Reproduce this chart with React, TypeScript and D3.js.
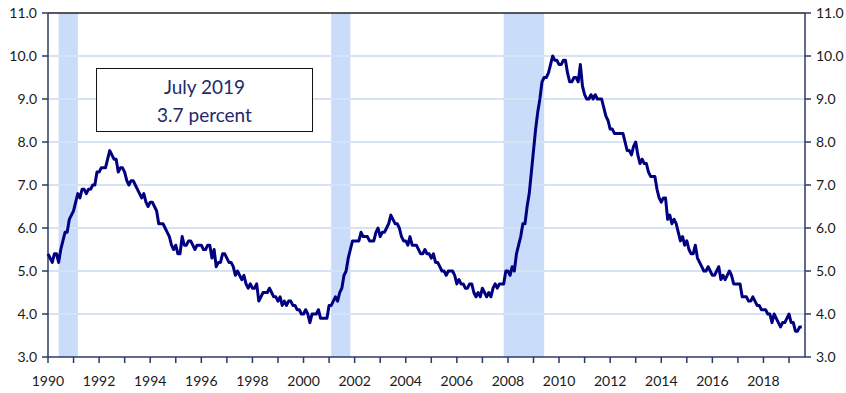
import React from "react";
import * as d3 from "d3";

const startYear = 1990;
const rates: number[] = [
  // 1990
  5.4, 5.3, 5.2, 5.4, 5.4, 5.2, 5.5, 5.7, 5.9, 5.9, 6.2, 6.3,
  // 1991
  6.4, 6.6, 6.8, 6.7, 6.9, 6.9, 6.8, 6.9, 6.9, 7.0, 7.0, 7.3,
  // 1992
  7.3, 7.4, 7.4, 7.4, 7.6, 7.8, 7.7, 7.6, 7.6, 7.3, 7.4, 7.4,
  // 1993
  7.3, 7.1, 7.0, 7.1, 7.1, 7.0, 6.9, 6.8, 6.7, 6.8, 6.6, 6.5,
  // 1994
  6.6, 6.6, 6.5, 6.4, 6.1, 6.1, 6.1, 6.0, 5.9, 5.8, 5.6, 5.5,
  // 1995
  5.6, 5.4, 5.4, 5.8, 5.6, 5.6, 5.7, 5.7, 5.6, 5.5, 5.6, 5.6,
  // 1996
  5.6, 5.5, 5.5, 5.6, 5.6, 5.3, 5.5, 5.1, 5.2, 5.2, 5.4, 5.4,
  // 1997
  5.3, 5.2, 5.2, 5.1, 4.9, 5.0, 4.9, 4.8, 4.9, 4.7, 4.6, 4.7,
  // 1998
  4.6, 4.6, 4.7, 4.3, 4.4, 4.5, 4.5, 4.5, 4.6, 4.5, 4.4, 4.4,
  // 1999
  4.3, 4.4, 4.2, 4.3, 4.2, 4.3, 4.3, 4.2, 4.2, 4.1, 4.1, 4.0,
  // 2000
  4.0, 4.1, 4.0, 3.8, 4.0, 4.0, 4.0, 4.1, 3.9, 3.9, 3.9, 3.9,
  // 2001
  4.2, 4.2, 4.3, 4.4, 4.3, 4.5, 4.6, 4.9, 5.0, 5.3, 5.5, 5.7,
  // 2002
  5.7, 5.7, 5.7, 5.9, 5.8, 5.8, 5.8, 5.7, 5.7, 5.7, 5.9, 6.0,
  // 2003
  5.8, 5.9, 5.9, 6.0, 6.1, 6.3, 6.2, 6.1, 6.1, 6.0, 5.8, 5.7,
  // 2004
  5.7, 5.6, 5.8, 5.6, 5.6, 5.6, 5.5, 5.4, 5.4, 5.5, 5.4, 5.4,
  // 2005
  5.3, 5.4, 5.2, 5.2, 5.1, 5.0, 5.0, 4.9, 5.0, 5.0, 5.0, 4.9,
  // 2006
  4.7, 4.8, 4.7, 4.7, 4.6, 4.6, 4.7, 4.7, 4.5, 4.4, 4.5, 4.4,
  // 2007
  4.6, 4.5, 4.4, 4.5, 4.4, 4.6, 4.7, 4.6, 4.7, 4.7, 4.7, 5.0,
  // 2008
  5.0, 4.9, 5.1, 5.0, 5.4, 5.6, 5.8, 6.1, 6.1, 6.5, 6.8, 7.3,
  // 2009
  7.8, 8.3, 8.7, 9.0, 9.4, 9.5, 9.5, 9.6, 9.8, 10.0, 9.9, 9.9,
  // 2010
  9.8, 9.8, 9.9, 9.9, 9.6, 9.4, 9.4, 9.5, 9.5, 9.4, 9.8, 9.3,
  // 2011
  9.1, 9.0, 9.0, 9.1, 9.0, 9.1, 9.0, 9.0, 9.0, 8.8, 8.6, 8.5,
  // 2012
  8.3, 8.3, 8.2, 8.2, 8.2, 8.2, 8.2, 8.0, 7.8, 7.8, 7.7, 7.9,
  // 2013
  8.0, 7.7, 7.5, 7.6, 7.5, 7.5, 7.3, 7.2, 7.2, 7.2, 6.9, 6.7,
  // 2014
  6.6, 6.7, 6.7, 6.2, 6.3, 6.1, 6.2, 6.1, 5.9, 5.7, 5.8, 5.6,
  // 2015
  5.7, 5.5, 5.4, 5.4, 5.6, 5.3, 5.2, 5.1, 5.0, 5.0, 5.1, 5.0,
  // 2016
  4.9, 4.9, 5.0, 5.1, 4.8, 4.9, 4.8, 4.9, 5.0, 4.9, 4.7, 4.7,
  // 2017
  4.7, 4.7, 4.4, 4.4, 4.4, 4.3, 4.3, 4.4, 4.3, 4.2, 4.2, 4.1,
  // 2018
  4.1, 4.1, 4.0, 4.0, 3.8, 4.0, 3.9, 3.8, 3.7, 3.8, 3.8, 3.9,
  // 2019
  4.0, 3.8, 3.8, 3.6, 3.6, 3.7, 3.7,
];

// recessions as [start, end] "YYYY-MM"
const recessions: [string, string][] = [
  ["1990-06", "1991-03"],
  ["2001-02", "2001-11"],
  ["2007-11", "2009-06"],
];

const yTicks = [3, 4, 5, 6, 7, 8, 9, 10, 11];
const xTickYears = d3.range(1990, 2020);
const xLabelYears = [1990, 1992, 1994, 1996, 1998, 2000, 2002, 2004, 2006, 2008, 2010, 2012, 2014, 2016, 2018];
const annotationLines = ["July 2019", "3.7 percent"];

const W = 846;
const H = 393;
const L = 48;
const R = 805;
const T = 13;
const B = 357;

const monthIndex = (s: string) => {
  const [y, m] = s.split("-").map(Number);
  return (y - startYear) * 12 + (m - 1);
};

export default function App() {
  const x = d3.scaleLinear().domain([0, 355.5]).range([L, R]);
  const y = d3.scaleLinear().domain([3, 11]).range([B, T]);
  const line = d3
    .line<number>()
    .x((_, i) => x(i))
    .y((d) => y(d));

  const font = "Lato, 'Open Sans', sans-serif";
  const axisColor = "#2c3a66";

  return (
    <svg
      width={W}
      height={H}
      style={{ position: "absolute", left: 0, top: 0, background: "#fff" }}
      fontFamily={font}
    >
      <rect x={0} y={0} width={W} height={H} fill="#fff" />
      {recessions.map(([s, e], i) => (
        <rect
          key={i}
          x={x(monthIndex(s))}
          y={T}
          width={x(monthIndex(e)) - x(monthIndex(s))}
          height={B - T}
          fill="#c9dcfa"
        />
      ))}
      {yTicks.slice(1, -1).map((t) => (
        <line key={t} x1={L} x2={R} y1={y(t)} y2={y(t)} stroke="#d6e3f7" strokeWidth={2} />
      ))}
      <line x1={L} x2={R} y1={y(11)} y2={y(11)} stroke="#222" strokeWidth={1.5} />
      {/* axes */}
      <line x1={L} x2={L} y1={T} y2={B} stroke={axisColor} strokeWidth={1.5} />
      <line x1={R} x2={R} y1={T} y2={B} stroke={axisColor} strokeWidth={1.5} />
      <line x1={L} x2={R} y1={B} y2={B} stroke={axisColor} strokeWidth={1.5} />
      {yTicks.map((t) => (
        <g key={t}>
          <line x1={L - 6} x2={L} y1={y(t)} y2={y(t)} stroke={axisColor} strokeWidth={1.5} />
          <line x1={R} x2={R + 6} y1={y(t)} y2={y(t)} stroke={axisColor} strokeWidth={1.5} />
          <text x={37} y={y(t)} dy="0.35em" textAnchor="end" fontSize={14} fill="#1a1a1a">
            {t.toFixed(1)}
          </text>
          <text x={816} y={y(t)} dy="0.35em" textAnchor="start" fontSize={14} fill="#1a1a1a">
            {t.toFixed(1)}
          </text>
        </g>
      ))}
      {xTickYears.map((yr) => (
        <line
          key={yr}
          x1={x((yr - startYear) * 12)}
          x2={x((yr - startYear) * 12)}
          y1={B}
          y2={B + 6}
          stroke={axisColor}
          strokeWidth={1.5}
        />
      ))}
      {xLabelYears.map((yr) => (
        <text
          key={yr}
          x={x((yr - startYear) * 12)}
          y={381}
          dy="0.35em"
          textAnchor="middle"
          fontSize={14}
          fill="#1a1a1a"
        >
          {yr}
        </text>
      ))}
      <path d={line(rates) || ""} fill="none" stroke="#000080" strokeWidth={3} strokeLinejoin="round" />
      <rect x={96.5} y={68.5} width={216} height={63} fill="#fff" stroke="#111" strokeWidth={1} />
      {annotationLines.map((s, i) => (
        <text
          key={i}
          x={204.5}
          y={87 + i * 28}
          dy="0.35em"
          textAnchor="middle"
          fontSize={19}
          fill="#22286b"
        >
          {s}
        </text>
      ))}
    </svg>
  );
}
